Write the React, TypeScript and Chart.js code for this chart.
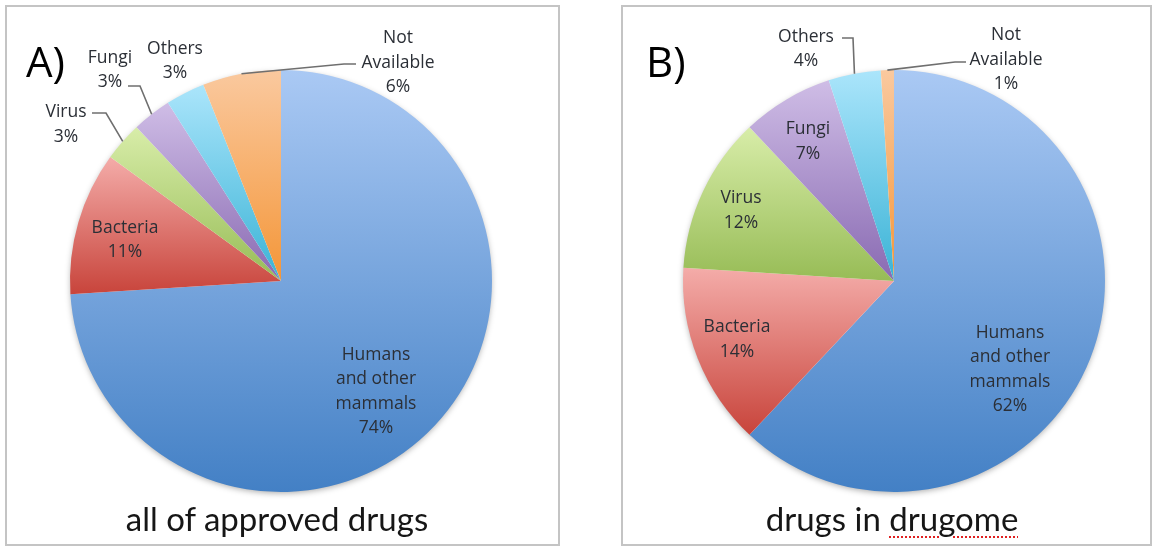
import React, { useEffect, useRef } from "react";
import { Chart, registerables } from "chart.js";

Chart.register(...registerables);

// ---------- data ----------
const categories = ["Humans and other mammals", "Bacteria", "Virus", "Fungi", "Others", "Not Available"];
const labelLines = [["Humans", "and other", "mammals"], ["Bacteria"], ["Virus"], ["Fungi"], ["Others"], ["Not", "Available"]];
const valuesA = [74, 11, 3, 3, 3, 6];
const valuesB = [62, 14, 12, 7, 4, 1];
const titleA = "all of approved drugs";
const titleB1 = "drugs in ";
const titleB2 = "drugome";
const panelA = "A)";
const panelB = "B)";

// ---------- styles ----------
const sliceColors: [string, string][] = [
  ["#aac9f4", "#4380c5"],
  ["#f4aca9", "#c8443b"],
  ["#d8eda9", "#97bc56"],
  ["#cfbde6", "#896ab2"],
  ["#abe5fb", "#3ab3d6"],
  ["#fac99f", "#f49638"],
];

type LabelLayout = { dx: number; dy: number; leader?: [number, number][] };

// label block centres / leader points relative to the pie centre (px)
const layoutA: LabelLayout[] = [
  { dx: 95, dy: 110.5 },
  { dx: -156, dy: -41 },
  { dx: -215, dy: -156.5, leader: [[-189, -168], [-175, -168]] },
  { dx: -171, dy: -211, leader: [[-153, -195], [-141, -195]] },
  { dx: -106, dy: -220 },
  { dx: 117, dy: -218, leader: [[75, -217], [63, -217]] },
];
const layoutB: LabelLayout[] = [
  { dx: 116, dy: 88.5 },
  { dx: -157, dy: 58.5 },
  { dx: -153, dy: -70.5 },
  { dx: -86, dy: -139.5 },
  { dx: -88, dy: -232, leader: [[-52, -243], [-41, -243]] },
  { dx: 112, dy: -221, leader: [[72, -219], [61, -219]] },
];

function sliceGradient(c: any) {
  const i = c.dataIndex;
  const chart = c.chart;
  const area = chart.chartArea;
  if (i === undefined || !area) return sliceColors[0][0];
  const [top, bot] = sliceColors[i];
  const data: number[] = chart.data.datasets[0].data;
  const total = data.reduce((a, b) => a + b, 0);
  const cx = (area.left + area.right) / 2;
  const cy = (area.top + area.bottom) / 2;
  const r = Math.min(area.right - area.left, area.bottom - area.top) / 2;
  let acc = 0;
  for (let k = 0; k < i; k++) acc += data[k];
  const a0 = -Math.PI / 2 + (acc / total) * Math.PI * 2;
  const a1 = a0 + (data[i] / total) * Math.PI * 2;
  let minY = cy, maxY = cy;
  const consider = (a: number) => {
    const y = cy + r * Math.sin(a);
    minY = Math.min(minY, y);
    maxY = Math.max(maxY, y);
  };
  consider(a0);
  consider(a1);
  for (let k = -3; k <= 3; k++) {
    const a = Math.PI / 2 + k * Math.PI;
    if (a > a0 && a < a1) consider(a);
  }
  if (maxY - minY < 1) maxY = minY + 1;
  const g = chart.ctx.createLinearGradient(0, minY, 0, maxY);
  g.addColorStop(0, top);
  g.addColorStop(1, bot);
  return g;
}

function makePlugin(values: number[], layout: LabelLayout[]) {
  return {
    id: "sliceLabels",
    beforeDatasetsDraw(chart: any) {
      const meta = chart.getDatasetMeta(0);
      const arc = meta.data[0];
      if (!arc) return;
      const ctx = chart.ctx;
      ctx.save();
      ctx.shadowColor = "rgba(0,0,0,0.35)";
      ctx.shadowBlur = 6;
      ctx.shadowOffsetY = 2;
      ctx.fillStyle = "#ffffff";
      ctx.beginPath();
      ctx.arc(arc.x, arc.y, arc.outerRadius - 1, 0, Math.PI * 2);
      ctx.fill();
      ctx.restore();
    },
    afterDatasetsDraw(chart: any) {
      const meta = chart.getDatasetMeta(0);
      const ctx = chart.ctx;
      ctx.save();
      meta.data.forEach((arc: any, i: number) => {
        const { x, y, startAngle, endAngle, outerRadius } = arc.getProps(
          ["x", "y", "startAngle", "endAngle", "outerRadius"],
          true
        );
        const L = layout[i];
        const lines = [...labelLines[i], `${values[i]}%`];
        const bx = x + L.dx;
        const by = y + L.dy;
        ctx.font = '17.5px "Open Sans"';
        ctx.fillStyle = "#2b2f36";
        ctx.textAlign = "center";
        ctx.textBaseline = "middle";
        const lh = 24.5;
        lines.forEach((t, k) => ctx.fillText(t, bx, by + (k - (lines.length - 1) / 2) * lh));
        if (L.leader) {
          const mid = (startAngle + endAngle) / 2;
          const ex = x + outerRadius * Math.cos(mid);
          const ey = y + outerRadius * Math.sin(mid);
          ctx.strokeStyle = "#6f6f6f";
          ctx.lineWidth = 1.6;
          ctx.beginPath();
          ctx.moveTo(x + L.leader[0][0], y + L.leader[0][1]);
          for (let k = 1; k < L.leader.length; k++) ctx.lineTo(x + L.leader[k][0], y + L.leader[k][1]);
          ctx.lineTo(ex, ey);
          ctx.stroke();
        }
      });
      ctx.restore();
    },
  };
}

function PieCanvas(props: {
  values: number[];
  layout: LabelLayout[];
  left: number;
  width: number;
  padding: { left: number; right: number; top: number; bottom: number };
}) {
  const ref = useRef<HTMLCanvasElement | null>(null);
  useEffect(() => {
    if (!ref.current) return;
    const chart = new Chart(ref.current, {
      type: "pie",
      data: {
        labels: categories,
        datasets: [
          {
            data: props.values,
            backgroundColor: sliceGradient as any,
            borderWidth: 0,
            hoverOffset: 0,
          },
        ],
      },
      options: {
        animation: false,
        responsive: false,
        maintainAspectRatio: false,
        layout: { padding: props.padding },
        plugins: {
          legend: { display: false },
          tooltip: { enabled: false },
          title: { display: false },
        },
      },
      plugins: [makePlugin(props.values, props.layout) as any],
    });
    return () => chart.destroy();
  }, []);
  return (
    <canvas
      ref={ref}
      width={props.width}
      height={552}
      style={{ position: "absolute", left: props.left, top: 0, width: props.width, height: 552 }}
    />
  );
}

const titleStyle: React.CSSProperties = {
  position: "absolute",
  top: 498,
  fontFamily: "Lato, 'Open Sans', sans-serif",
  fontSize: 33,
  lineHeight: "40px",
  color: "#161616",
  textAlign: "center",
  whiteSpace: "nowrap",
};

const letterStyle: React.CSSProperties = {
  position: "absolute",
  top: 36,
  fontFamily: "'Open Sans', Lato, sans-serif",
  fontSize: 42,
  lineHeight: "50px",
  color: "#000",
};

export default function App() {
  return (
    <div
      style={{
        position: "absolute",
        left: 0,
        top: 0,
        width: 1156,
        height: 552,
        background: "#ffffff",
        overflow: "hidden",
      }}
    >
      <div
        style={{
          position: "absolute",
          left: 5,
          top: 5,
          width: 555,
          height: 541,
          boxSizing: "border-box",
          border: "2px solid #c4c4c4",
        }}
      />
      <div
        style={{
          position: "absolute",
          left: 621,
          top: 5,
          width: 531,
          height: 541,
          boxSizing: "border-box",
          border: "2px solid #c4c4c4",
        }}
      />
      <PieCanvas
        values={valuesA}
        layout={layoutA}
        left={0}
        width={580}
        padding={{ left: 70, right: 88, top: 70, bottom: 60 }}
      />
      <PieCanvas
        values={valuesB}
        layout={layoutB}
        left={580}
        width={576}
        padding={{ left: 103, right: 51, top: 70, bottom: 60 }}
      />
      <div style={{ ...letterStyle, left: 26 }}>{panelA}</div>
      <div style={{ ...letterStyle, left: 646 }}>{panelB}</div>
      <div style={{ ...titleStyle, left: 77, width: 400 }}>{titleA}</div>
      <div style={{ ...titleStyle, left: 692, width: 400 }}>
        {titleB1}
        <span
          style={{
            textDecorationLine: "underline",
            textDecorationStyle: "dotted",
            textDecorationColor: "#e02020",
            textDecorationThickness: "2px",
            textUnderlineOffset: "5px",
          }}
        >
          {titleB2}
        </span>
      </div>
    </div>
  );
}
